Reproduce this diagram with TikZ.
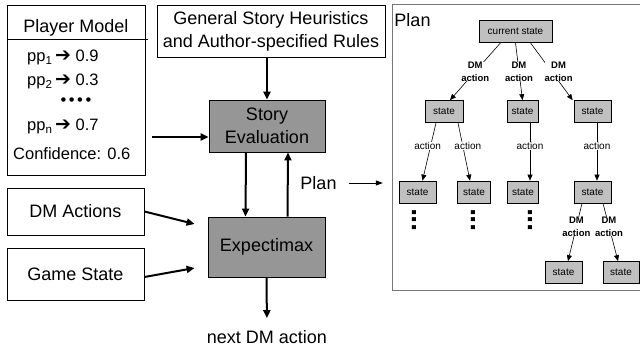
\documentclass[tikz,border=0pt]{standalone}
\usepackage{fontspec}
\setmainfont{Liberation Sans}
\newfontfamily\arrowfont{DejaVu Sans}
\usetikzlibrary{arrows.meta}
\definecolor{boxgray}{RGB}{150,150,150}
\definecolor{stategray}{RGB}{192,192,192}
\definecolor{framegray}{RGB}{120,120,120}

\begin{document}
\begin{tikzpicture}[x=1pt, y=-1pt,
    every node/.style={inner sep=0pt},
    block/.style={draw, line width=0.8pt, align=center, font=\fontsize{18}{23}\selectfont},
    grayblock/.style={block, fill=boxgray},
    txt/.style={font=\fontsize{18}{23}\selectfont},
    pmtxt/.style={anchor=base west, font=\fontsize{16.5}{20}\selectfont},
    state/.style={draw, line width=0.7pt, fill=stategray, minimum height=22pt, font=\fontsize{10}{12}\selectfont},
    dmlabel/.style={fill=white, align=center, font=\fontsize{9.5}{13}\selectfont\bfseries},
    actlabel/.style={fill=white, font=\fontsize{10}{12}\selectfont},
    moredots/.style={rotate=90, font=\fontsize{28}{28}\selectfont\bfseries}]
  \tikzstyle{flow}=[line width=2pt, -{Triangle[length=8pt,width=7pt]}]
  \tikzstyle{trans}=[line width=0.6pt, -{Triangle[length=6pt,width=5pt]}]

\useasboundingbox (0,0) rectangle (640,350);

% player model
\node [block, minimum width=138pt, minimum height=170pt] (pm) at (76,90) {};
\node [txt, anchor=base] (pmtitle) at (76,33) {Player Model};
\draw [line width=0.8pt] ([yshift=-35pt]pm.north west) -- ([yshift=-35pt, xshift=3pt]pm.north east);
\node [pmtxt] (pp1) at (27,62) {pp\textsubscript{1}\,{\arrowfont\fontsize{19}{19}\selectfont ➔} 0.9};
\node [pmtxt] (pp2) at (27,86) {pp\textsubscript{2}\,{\arrowfont\fontsize{19}{19}\selectfont ➔} 0.3};
\node [font=\fontsize{16.5}{20}\selectfont] (pmdots) at (76,102) {•\hspace{2.5pt}•\hspace{2.5pt}•\hspace{2.5pt}•};
\node [pmtxt] (ppn) at (27,131) {pp\textsubscript{n}\,{\arrowfont\fontsize{19}{19}\selectfont ➔} 0.7};
\node [pmtxt] (conf) at (13,160) {Confidence: 0.6};

% inputs and the two steps
\node [block, minimum width=228pt, minimum height=52pt] (heur) at (271,31) {General Story Heuristics\\and Author-specified Rules};
\node [grayblock, minimum width=116pt, minimum height=52pt] (eval) at (267,126) {Story\\Evaluation};
\node [grayblock, minimum width=117pt, minimum height=60pt] (expx) at (266.5,247) {Expectimax};
\node [block, minimum width=137pt, minimum height=47pt] (dma) at (75.5,211.5) {DM Actions};
\node [block, minimum width=137pt, minimum height=52pt] (gst) at (75.5,274) {Game State};
\node [txt] (next) at (267,337) {next DM action};
\node [txt] (planlbl) at (318.5,183) {Plan};

\draw[flow] (eval.north |- heur.south) -- (eval.north);
\draw[flow, shorten <=7pt] ([yshift=-11pt]eval.west -| pm.east) -- ([yshift=-11pt]eval.west);
\draw[flow] ([xshift=-21pt]eval.south) -- ([xshift=-21pt]expx.north);
\draw[flow] ([xshift=21pt]expx.north) -- ([xshift=21pt]eval.south);
\draw[flow] (dma.east) -- ([xshift=-13pt, yshift=23pt]expx.west);
\draw[flow] ([yshift=-3pt]gst.east) -- ([xshift=-13pt, yshift=-21pt]expx.west);
\draw[flow, shorten >=12pt] (expx.south) -- (next.north);

% plan tree
\node [minimum width=247pt, minimum height=285pt] (planbox) at (516.5,147.5) {};
\draw [framegray, line width=1.2pt] (planbox.north east) -- (planbox.north west) -- (planbox.south west) -- (planbox.south east);
\node [txt] (plantitle) at (412.5,20.5) {Plan};
\draw [line width=0.8pt, -{Triangle[length=7pt,width=5pt]}, shorten <=12pt, shorten >=10pt] (planlbl.east) -- (planlbl.east -| planbox.west);

\node [state, minimum width=73pt] (cur) at (515.5,31.5) {current state};
\node [state, minimum width=38pt] (s1) at (444,111.5) {state};
\node [state, minimum width=31pt] (s2) at (522.5,111.5) {state};
\node [state, minimum width=37pt] (s3) at (592.5,111.5) {state};
\node [state, minimum width=37pt] (s4) at (417.5,192) {state};
\node [state, minimum width=33pt] (s5) at (474,192) {state};
\node [state, minimum width=31pt] (s6) at (523,192) {state};
\node [state, minimum width=37pt] (s7) at (592.5,192) {state};
\node [state, minimum width=37pt] (s8) at (563.5,272.5) {state};
\node [state, minimum width=36pt] (s9) at (621,272.5) {state};

\node [moredots] (more4) at (414,220) {...};
\node [moredots] (more5) at (473,220) {...};
\node [moredots] (more6) at (530,220) {...};

\draw[trans] ([xshift=-15pt]cur.south) -- ([xshift=6pt]s1.north) node [midway, dmlabel] {DM\\action};
\draw[trans] (cur.south) -- (s2.north) node [midway, dmlabel] {DM\\action};
\draw[trans] ([xshift=15pt]cur.south) -- ([xshift=-1pt]s3.north west) node [midway, dmlabel, xshift=7pt] {DM\\action};

\draw[trans] ([xshift=-8pt]s1.south) -- ([xshift=5pt]s4.north) node [pos=0.4, actlabel, xshift=-3pt] {action};
\draw[trans] ([xshift=14pt]s1.south) -- ([xshift=-4pt]s5.north) node [pos=0.4, actlabel, xshift=5pt] {action};
\draw[trans] ([xshift=7.5pt]s2.south) -- ([xshift=7pt]s6.north) node [pos=0.4, actlabel] {action};
\draw[trans] ([xshift=4.5pt]s3.south) -- ([xshift=4.5pt]s7.north) node [pos=0.4, actlabel] {action};

\draw[trans] ([xshift=-10.5pt]s7.south) -- ([xshift=4.5pt]s8.north) node [pos=0.4, dmlabel] {DM\\action};
\draw[trans] ([xshift=10.5pt]s7.south) -- ([xshift=-3pt]s9.north) node [pos=0.4, dmlabel] {DM\\action};

\end{tikzpicture}
\end{document}
